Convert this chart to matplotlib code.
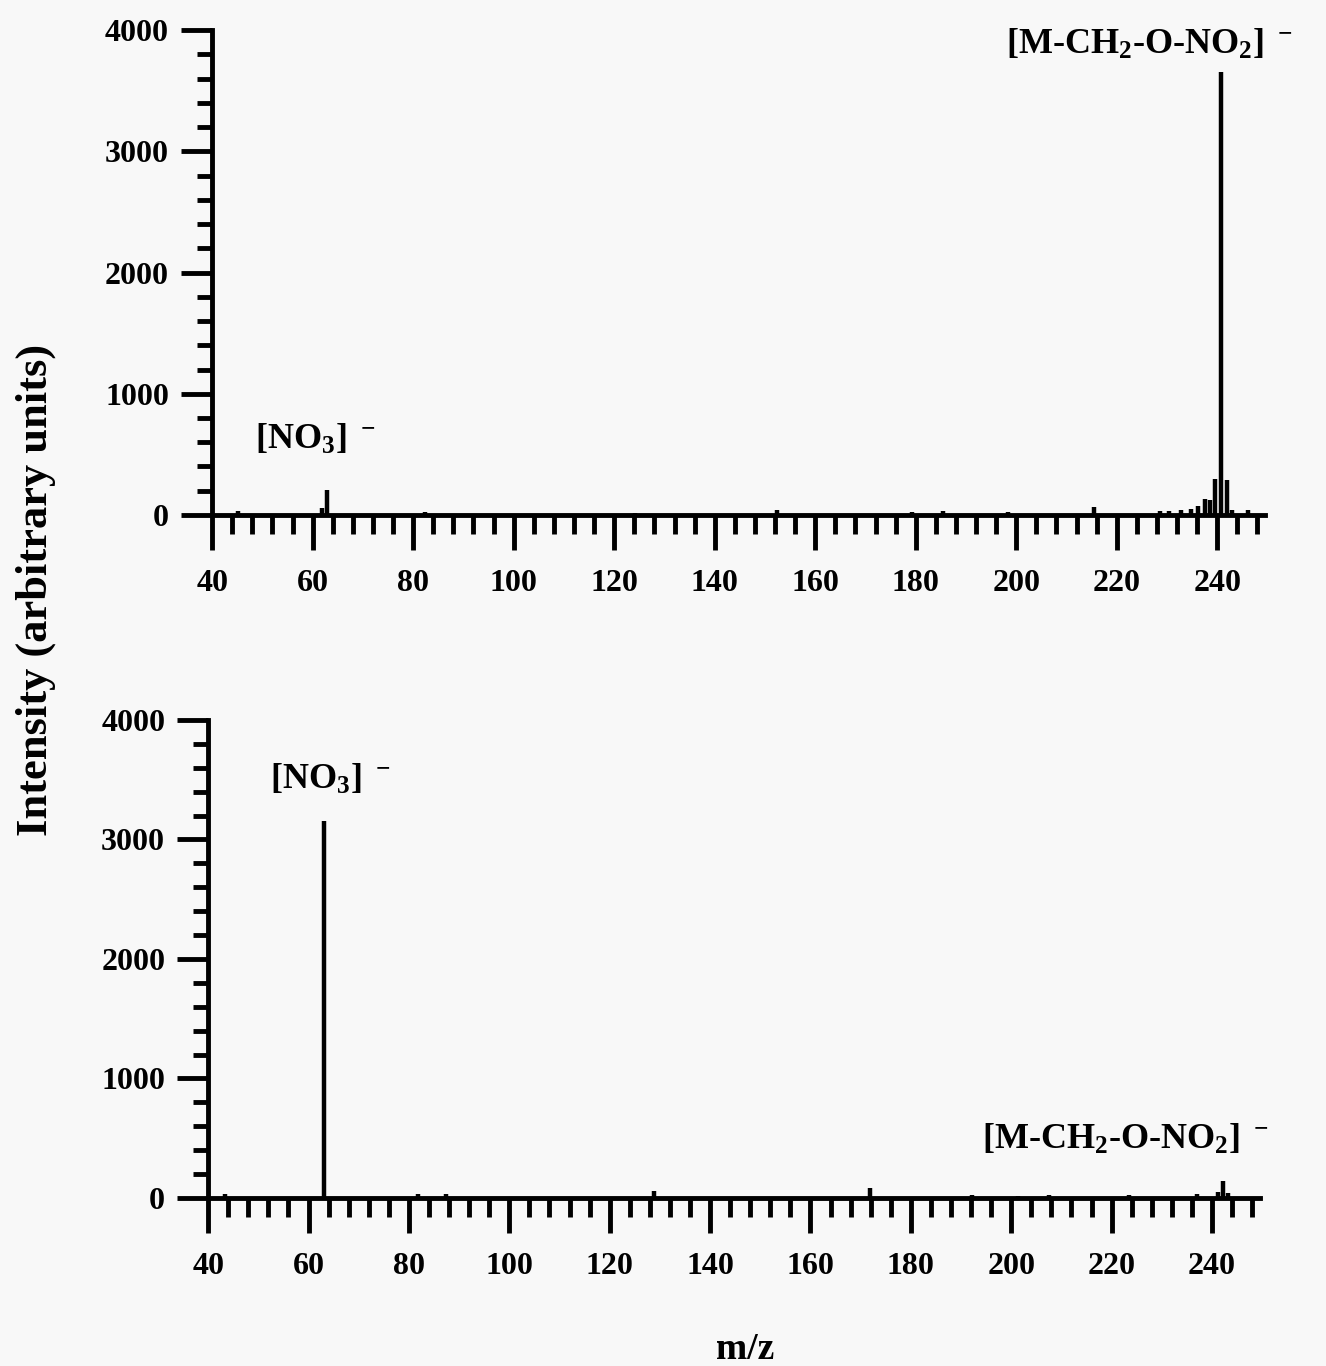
"""Negative-ion mass spectra, two stacked panels."""

import matplotlib
matplotlib.use("Agg")
import matplotlib.pyplot as plt
from matplotlib.ticker import MultipleLocator

# top spectrum (m/z, intensity)
top_mz = [45.1, 61.9, 62.9, 82.4, 124.2, 152.3, 179.3, 185.5, 198.4, 215.5,
          228.6, 230.3, 232.7, 234.8, 236.1, 237.5, 238.5, 239.6, 240.7,
          241.9, 243.0, 246.1]
top_int = [30, 60, 210, 25, 15, 40, 25, 35, 25, 65,
           30, 30, 40, 50, 70, 130, 120, 300, 3650,
           290, 40, 40]

# bottom spectrum (m/z, intensity)
bot_mz = [43.3, 63.0, 81.8, 87.4, 128.8, 171.8, 192.1, 201.3, 207.5, 223.4,
          237.0, 241.2, 242.2, 243.2]
bot_int = [35, 3150, 30, 30, 55, 85, 25, 15, 25, 25,
           30, 50, 140, 40]

x_ticks = list(range(40, 241, 20))
y_ticks = [0, 1000, 2000, 3000, 4000]

plt.rcParams["font.family"] = ["Liberation Serif", "DejaVu Serif"]
plt.rcParams["font.weight"] = "bold"
plt.rcParams["mathtext.fontset"] = "custom"
plt.rcParams["mathtext.rm"] = "Liberation Serif:bold"
plt.rcParams["mathtext.bf"] = "Liberation Serif:bold"
plt.rcParams["mathtext.it"] = "Liberation Serif:bold"
plt.rcParams["mathtext.default"] = "bf"

BG = "#f8f8f8"
fig = plt.figure(figsize=(13.26, 13.66), dpi=100, facecolor=BG)

ax_top = fig.add_axes([0.160, 0.623, 0.794, 0.355])
ax_bot = fig.add_axes([0.157, 0.123, 0.793, 0.350])


def style_axes(ax):
    ax.set_facecolor(BG)
    ax.set_xlim(40, 249.5)
    ax.set_ylim(0, 4000)
    for side in ("top", "right"):
        ax.spines[side].set_visible(False)
    for side in ("left", "bottom"):
        ax.spines[side].set_linewidth(3.5)
    ax.set_xticks(x_ticks)
    ax.set_yticks(y_ticks)
    ax.xaxis.set_minor_locator(MultipleLocator(4))
    ax.yaxis.set_minor_locator(MultipleLocator(200))
    ax.tick_params(axis="x", which="major", direction="out", length=25,
                   width=3.5, pad=14, labelsize=23)
    ax.tick_params(axis="x", which="minor", direction="out", length=14,
                   width=3.5)
    ax.tick_params(axis="y", which="major", direction="out", length=22,
                   width=3.5, pad=9, labelsize=23)
    ax.tick_params(axis="y", which="minor", direction="out", length=11,
                   width=3.5)


for ax, mz, inten in ((ax_top, top_mz, top_int), (ax_bot, bot_mz, bot_int)):
    style_axes(ax)
    ax.vlines(mz, 0, inten, colors="black", linewidth=3.2)

ax_top.text(60.5, 620, r"[NO$_3$] $^-$", fontsize=26, ha="center", va="center")
ax_top.text(226.5, 3880, r"[M-CH$_2$-O-NO$_2$] $^-$", fontsize=26,
            ha="center", va="center")
ax_bot.text(64.3, 3500, r"[NO$_3$] $^-$", fontsize=26, ha="center", va="center")
ax_bot.text(222.7, 485, r"[M-CH$_2$-O-NO$_2$] $^-$", fontsize=26,
            ha="center", va="center")

fig.text(0.027, 0.568, "Intensity (arbitrary units)", rotation=90,
         fontsize=32, ha="center", va="center")
fig.text(0.562, 0.012, "m/z", fontsize=27, ha="center", va="center")

fig.savefig("out.png", dpi=100, facecolor=BG)
